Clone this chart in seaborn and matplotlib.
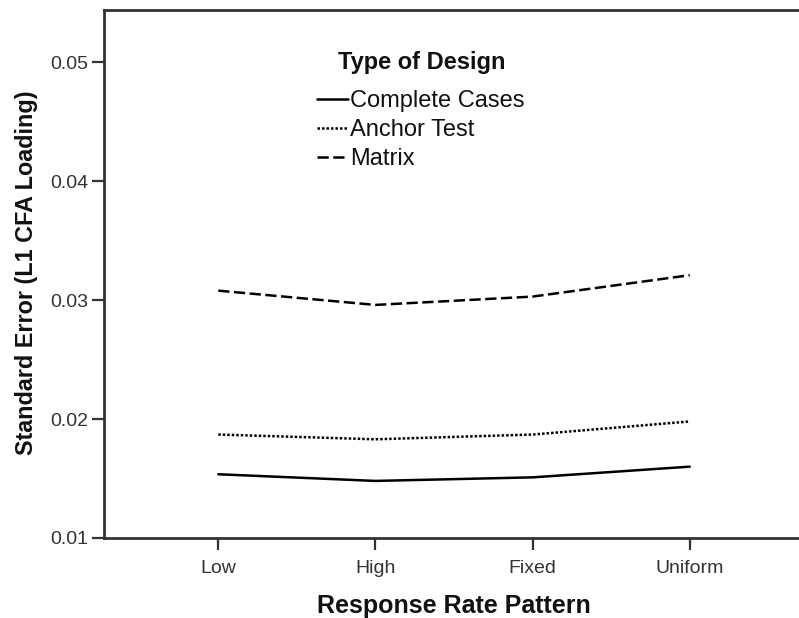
import matplotlib
matplotlib.use("Agg")
import matplotlib.pyplot as plt
import seaborn as sns
import pandas as pd

categories = ["Low", "High", "Fixed", "Uniform"]
complete_cases = [0.01536, 0.0148, 0.0151, 0.0160]
anchor_test = [0.0187, 0.0183, 0.0187, 0.0198]
matrix = [0.0308, 0.0296, 0.0303, 0.0321]
series_names = ["Complete Cases", "Anchor Test", "Matrix"]
y_ticks = [0.01, 0.02, 0.03, 0.04, 0.05]

rows = []
for name, vals in zip(series_names, [complete_cases, anchor_test, matrix]):
    for i, (c, v) in enumerate(zip(categories, vals)):
        rows.append({"Pattern": c, "pos": i, "SE": v, "Type of Design": name})
df = pd.DataFrame(rows)

sns.set_theme(style="white")
plt.rcParams["font.family"] = ["Liberation Sans", "DejaVu Sans"]

fig = plt.figure(figsize=(7.99, 6.18), dpi=100)
W, H = 799, 618
ax = fig.add_axes([104 / W, 1 - 538 / H, (804 - 104) / W, (538 - 10) / H])

styles = {"Complete Cases": "-", "Anchor Test": (0, (1, 0.8)), "Matrix": (0, (4.5, 1.8))}
for name in series_names:
    sub = df[df["Type of Design"] == name]
    sns.lineplot(data=sub, x="pos", y="SE", ax=ax, color="black", lw=1.8,
                 linestyle=styles[name], label=name, legend=False)

ax.set_xlim(-0.727, 3.727)
ax.set_ylim(0.01, 0.0544)
ax.set_xticks(range(len(categories)))
ax.set_xticklabels(categories)
ax.set_yticks(y_ticks)
ax.set_yticklabels([f"{t:.2f}" for t in y_ticks])

for side in ["top", "bottom", "left", "right"]:
    ax.spines[side].set_color("#333333")
    ax.spines[side].set_linewidth(2)
ax.tick_params(axis="both", direction="out", length=8.5, width=1.6, color="#333333",
               labelsize=14, labelcolor="#333333", bottom=True, left=True)
ax.tick_params(axis="x", pad=7)
ax.tick_params(axis="y", pad=3)

ax.set_xlabel("Response Rate Pattern", fontsize=18, fontweight="bold", color="#111111")
ax.set_ylabel("Standard Error (L1 CFA Loading)", fontsize=16.8, fontweight="bold", color="#111111")
ax.xaxis.set_label_coords(0.5, -(594 - 538) / 528)
ax.yaxis.set_label_coords(-(104 - 38) / 700, (538 - 273) / 528)

fig.text(338 / W, 1 - 62 / H, "Type of Design", fontsize=17, fontweight="bold",
         ha="left", va="center", color="#111111")
leg = ax.legend(frameon=False, loc="upper left",
                bbox_to_anchor=(317 / W, 1 - 90 / H), bbox_transform=fig.transFigure,
                handlelength=1.3, handletextpad=0.1, labelspacing=0.3,
                fontsize=17, borderaxespad=0, borderpad=0)
for t in leg.get_texts():
    t.set_color("#111111")

fig.savefig("out.png", dpi=100)
